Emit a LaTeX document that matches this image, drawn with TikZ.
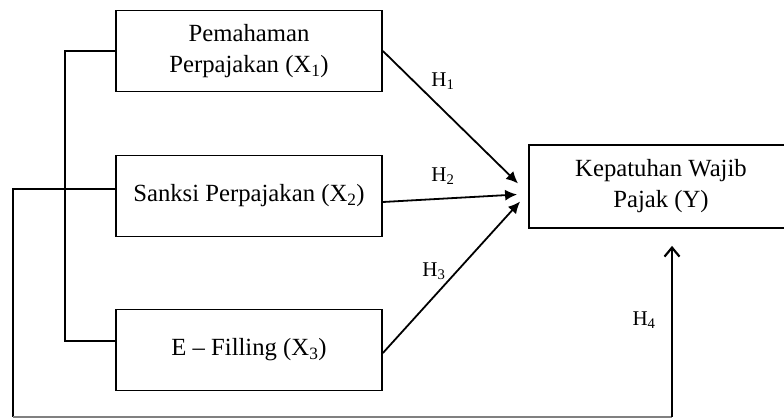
\documentclass[tikz,border=0pt]{standalone}
\usepackage{fontspec}
\setmainfont{Liberation Serif}
\usetikzlibrary{shapes,arrows.meta}
\usetikzlibrary{positioning}

\begin{document}
\begin{tikzpicture}[x=1pt,y=-1pt,
  every node/.style={font=\fontsize{24.7}{31}\selectfont},
  var/.style={draw,line width=1.8pt,minimum width=266pt,minimum height=81pt,
    align=center,inner sep=0pt},
  hyp/.style={line width=1.8pt,-{Latex[length=12pt,width=11pt]}},
  link/.style={line width=1.4pt},
  lab/.style={font=\fontsize{21}{25}\selectfont,inner sep=0pt}]

  \useasboundingbox (0,0) rectangle (784,419);
  \clip (0,0) rectangle (784,419);

  % variables
  \node[var] (x1) at (249,51)  {Pemahaman\\Perpajakan (X\textsubscript{1})};
  \node[var] (x2) at (249,196) {Sanksi Perpajakan (X\textsubscript{2})};
  \node[var] (x3) at (249,350) {E -- Filling (X\textsubscript{3})};
  % y box runs off the right edge
  \node[var,draw=none,minimum width=262pt] (y) at (661,186.5)
    {Kepatuhan Wajib\\Pajak (Y)};
  \draw[line width=1.5pt] ([xshift=300pt]y.north west) -- (y.north west)
    -- (y.south west) -- ([xshift=300pt]y.south west);

  % brackets on the left
  \coordinate (c1) at (65,51);
  \coordinate (c2) at (13,189);
  \coordinate (c4) at (672,417);
  \draw[link] (x1.west) -- (c1) |- ([yshift=9pt]x3.west);
  \draw[link] ([yshift=7pt]x2.west) -- (c2) |- (13,417);
  \draw[line width=1.2pt,gray] (13,417) -- (c4);

  % hypotheses
  \draw[hyp] (x1.east) -- ([xshift=-11pt,yshift=3pt]y.west);
  \draw[hyp] ([yshift=-6pt]x2.east) -- ([xshift=-12pt,yshift=-8pt]y.west);
  \draw[hyp] ([yshift=-3pt]x3.east) -- ([xshift=-9pt,yshift=-15pt]y.west);
  \draw[line width=2.2pt,-{Straight Barb[length=9pt,width=15pt]}]
    (c4) -- ([xshift=11pt,yshift=-18pt]y.south);

  \node[lab] (h1) at (443,81)  {H\textsubscript{1}};
  \node[lab] (h2) at (443,176) {H\textsubscript{2}};
  \node[lab] (h3) at (434,271) {H\textsubscript{3}};
  \node[lab] (h4) at (644,320) {H\textsubscript{4}};

\end{tikzpicture}
\end{document}
